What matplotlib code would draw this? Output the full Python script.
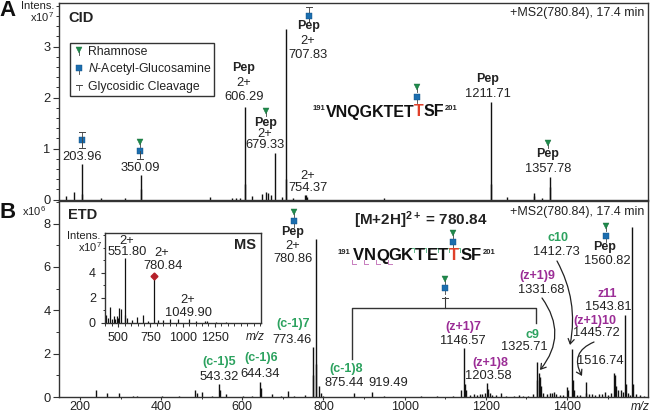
import matplotlib
matplotlib.use('Agg')
import matplotlib.pyplot as plt
from matplotlib.patches import FancyArrowPatch, Rectangle

plt.rcParams['font.family'] = ['Liberation Sans', 'DejaVu Sans']
plt.rcParams['mathtext.fontset'] = 'custom'
plt.rcParams['mathtext.rm'] = 'Liberation Sans'
plt.rcParams['mathtext.it'] = 'Liberation Sans:italic'
plt.rcParams['mathtext.bf'] = 'Liberation Sans:bold'
plt.rcParams['mathtext.default'] = 'regular'

# peaks, intensity in axis units
cid_mz = [165, 185, 203.96, 204.9, 251, 311, 350.09, 351, 520, 575, 585, 595, 606.29, 607.3, 624, 649, 658, 664, 671,
          679.33, 697, 707.83, 708.8, 724, 754.37, 757, 760, 949, 1211.71, 1213, 1252, 1319, 1320, 1338, 1357.78, 1358.8]
cid_int = [0.07, 0.14, 0.7, 0.1, 0.02, 0.02, 0.49, 0.2, 0.05, 0.03, 0.03, 0.03, 1.82, 0.3, 0.07, 0.1, 0.15, 0.12, 0.08,
           0.92, 0.04, 3.35, 0.4, 0.03, 0.09, 0.09, 0.05, 0.02, 1.92, 0.3, 0.04, 0.12, 0.06, 0.02, 0.45, 0.25]

etd_mz = [239, 267, 296, 331, 340, 402, 444, 483, 488, 500, 526, 543.32, 545, 559, 601, 625, 644.34, 646, 673, 695, 713,
          727, 754, 773.46, 775, 780.86, 782, 790, 795, 800, 875.44, 919.49, 950, 1000, 1040, 1080, 1120, 1140, 1146.57,
          1148, 1151, 1160, 1170, 1178, 1185, 1190, 1197, 1203.58, 1206, 1210, 1216, 1225, 1238, 1250, 1270, 1283, 1292,
          1305, 1317, 1325.71, 1327, 1331.68, 1334, 1337, 1342, 1350, 1357, 1362, 1368, 1374, 1382, 1390, 1399, 1402,
          1412.73, 1414, 1418, 1425, 1432, 1445.72, 1447, 1455, 1462, 1470, 1478, 1486, 1494, 1500, 1508, 1516.74, 1519,
          1522, 1527, 1533, 1537, 1543.81, 1545, 1550, 1556, 1560.82, 1562, 1570, 1580, 1590]
etd_int = [0.32, 0.2, 0.2, 0.04, 0.04, 0.05, 0.04, 0.32, 0.2, 0.22, 0.04, 0.58, 0.3, 0.13, 0.05, 0.06, 0.7, 0.4, 0.12,
           0.03, 0.28, 0.06, 0.1, 2.3, 1.0, 7.28, 1.5, 0.5, 0.2, 0.05, 0.2, 0.22, 0.03, 0.02, 0.03, 0.03, 0.04, 0.3, 2.25,
           0.6, 0.3, 0.1, 0.12, 0.08, 0.12, 0.12, 0.2, 0.63, 0.35, 0.2, 0.1, 0.07, 0.2, 0.04, 0.05, 0.1, 0.06,
           0.04, 0.12, 1.6, 0.8, 1.1, 0.9, 0.5, 0.2, 0.12, 0.17, 0.2, 0.22, 0.15, 0.1, 0.08, 0.45, 0.3,
           2.2, 0.8, 0.3, 0.1, 0.07, 0.68, 0.2, 0.12, 0.15, 0.1, 0.14, 0.12, 0.25, 0.1, 0.2, 1.13, 1.0,
           0.5, 0.3, 0.3, 0.25, 3.8, 0.6, 0.2, 0.1, 7.83, 0.6, 0.15, 0.08, 0.05]

ms_mz = [407, 420, 436, 450, 463, 475, 488, 500, 508, 520, 551.8, 555, 565, 605, 648, 695, 733, 780.84, 810, 848, 900,
         967, 1049.9, 1106, 1170, 1190, 1260, 1340]
ms_int = [0.6, 0.35, 1.28, 0.3, 0.5, 0.3, 0.55, 0.4, 1.2, 1.1, 5.17, 0.6, 0.4, 0.25, 0.45, 0.6, 0.15, 3.7, 0.25, 0.2,
          0.3, 0.3, 0.3, 0.15, 0.15, 0.15, 0.05, 0.05]

W, H = 650, 413
GREY = '#222222'
FRAME = '#333333'
GREEN = '#2ca25f'
PURPLE = '#9b2d96'
TRI = '#1f8a4c'
BLUE = '#1c6eaf'


def box(l, t, r, b):
    return [l / W, 1 - b / H, (r - l) / W, (b - t) / H]


fig = plt.figure(figsize=(6.5, 4.13), dpi=100)

axA = fig.add_axes(box(59, 3, 648, 199.5))
axB = fig.add_axes(box(59, 201, 648, 397))
axC = fig.add_axes(box(105, 233, 261, 322.7))

axA.vlines(cid_mz, 0, cid_int, color='#111111', lw=1.0)
axB.vlines(etd_mz, 0, etd_int, color='#111111', lw=1.0)
axC.vlines(ms_mz, 0, ms_int, color='#111111', lw=0.9)
axC.plot([780.84], [3.7], marker='D', ms=3.5, color='#b5202a', ls='none')

axA.set_xlim(148.25, 1599.7)
axA.set_ylim(0, 3.853)
axB.set_xlim(148.25, 1599.7)
axB.set_ylim(0, 9.045)
axC.set_xlim(397, 1608)
axC.set_ylim(0, 7.18)

axA.set_xticks([])
axA.set_yticks([0, 1, 2, 3])
axA.set_yticks([i * 0.2 for i in range(20)], minor=True)
axB.set_xticks(range(200, 1600, 200))
axB.set_xticks(range(200, 1600, 100), minor=True)
axB.set_yticks([0, 2, 4, 6, 8])
axB.set_yticks(range(0, 10), minor=True)
axC.set_xticks([500, 750, 1000, 1250])
axC.set_xticks(range(400, 1601, 50), minor=True)
axC.set_yticks([0, 2, 4])
axC.set_yticks([0, 1, 2, 3, 4, 5, 6, 7], minor=True)

for ax in (axA, axB, axC):
    for s in ax.spines.values():
        s.set_color(FRAME)
        s.set_linewidth(1.0)
    ax.tick_params(which='major', length=4, width=0.8, color=FRAME, labelsize=9.3, labelcolor=GREY, pad=2)
    ax.tick_params(which='minor', length=2.5, width=0.7, color=FRAME)
axB.tick_params(axis='x', which='major', length=2.5, pad=0.5, labelsize=9)
axB.tick_params(axis='x', which='minor', length=1.5)
axC.tick_params(which='major', length=3, labelsize=9, pad=3.5)
axC.tick_params(which='minor', length=1.8)

# overlay in picture coordinates for the annotations
ov = fig.add_axes([0, 0, 1, 1], zorder=10)
ov.set_xlim(0, W)
ov.set_ylim(H, 0)
ov.axis('off')
ov.patch.set_alpha(0)


def num(x, y, s, ha='center', size=9.3):
    ov.text(x, y, s, ha=ha, va='center', fontsize=size, color=GREY)


def bold(x, y, s, color=GREY, size=9, ha='center'):
    ov.text(x, y, s, ha=ha, va='center', fontsize=size, color=color, fontweight='bold')


def tri(x, y):
    ov.plot([x, x], [y, y + 5], color='#444444', lw=0.6)
    ov.plot([x], [y], marker='v', ms=5, color=TRI, mec='#156b38', mew=0.3, ls='none')


def sq(x, y):
    ov.plot([x, x], [y, y + 6], color='#444444', lw=0.6)
    ov.plot([x], [y], marker='s', ms=4.6, color=BLUE, mec='#124e80', mew=0.3, ls='none')


def cut(x, y, half=3):
    ov.plot([x - half, x + half], [y, y], color='#444444', lw=0.7)


def arrow(a, b, rad):
    ov.add_patch(FancyArrowPatch(a, b, connectionstyle='arc3,rad=%s' % rad, arrowstyle='->,head_width=2.2,head_length=3.5',
                                 color='#222222', lw=0.9, shrinkA=0, shrinkB=0))


# panel letters and y labels
bold(8, 10, 'A', color='#111111', size=16)
bold(8, 212, 'B', color='#111111', size=16)
num(54, 6, 'Intens.', ha='right', size=8)
num(54, 17, 'x10$^{7}$', ha='right', size=8)
num(46, 211, 'x10$^{6}$', ha='right', size=8)
bold(68, 17.5, 'CID', size=10.5, ha='left')
bold(68, 215, 'ETD', size=10.5, ha='left')
num(644, 13, '+MS2(780.84), 17.4 min', ha='right', size=9)
num(644, 212, '+MS2(780.84), 17.4 min', ha='right', size=9)

# legend box
ov.add_patch(Rectangle((70, 43), 144, 53, fill=False, ec=FRAME, lw=1.0))
tri(78.7, 50)
sq(78.7, 67.5)
ov.plot([78.7, 78.7], [85, 90], color='#444444', lw=0.6)
cut(78.7, 85)
num(88, 52, 'Rhamnose', ha='left', size=8.8)
num(88, 69, r'$\mathit{N}$-Acetyl-Glucosamine', ha='left', size=8.8)
num(88, 87, 'Glycosidic Cleavage', ha='left', size=8.8)

# panel A labels
sq(82, 140)
ov.plot([82, 82], [132, 148], color='#444444', lw=0.6)
cut(82, 132)
cut(82, 148)
num(82, 157, '203.96')
tri(139.5, 142)
sq(139.5, 151)
ov.plot([139.5, 139.5], [151, 159], color='#444444', lw=0.6)
cut(139.5, 159)
num(140, 168, '350.09')
bold(244, 68, 'Pep')
num(244, 83, '2+')
num(244, 97, '606.29')
tri(266, 111)
bold(266, 123, 'Pep')
num(265, 134, '2+')
num(265, 145, '679.33')
ov.plot([309, 309], [7, 22], color='#444444', lw=0.6)
cut(309, 7)
sq(309, 16)
bold(309, 26, 'Pep')
num(308, 41, '2+')
num(308, 55, '707.83')
num(308, 176, '2+')
num(308, 188, '754.37')
bold(488, 79, 'Pep')
num(488, 94, '1211.71')
tri(548, 143)
bold(548, 154, 'Pep')
num(548, 169, '1357.78')

# peptide in panel A, piece by piece
fig.canvas.draw()
rend = fig.canvas.get_renderer()
x = 313
inv = ov.transData.inverted()
pieces = [('191', 5.5, 108.5, GREY), ('VNQGKTET', 11.5, 112, '#111111'), ('T', 11.5, 112, '#e0402a'),
          ('SF', 11.5, 112, '#111111'), ('201', 5.5, 108.5, GREY)]
for s, size, y, c in pieces:
    t = ov.text(x, y, s, ha='left', va='center', fontsize=size, color=c, fontweight='bold')
    x = inv.transform((t.get_window_extent(rend).x1, 0))[0]
tri(417, 87)
sq(417, 97)

# panel B labels
tri(294, 212)
sq(294, 221)
bold(293, 232, 'Pep')
num(293, 246, '2+')
num(293, 259, '780.86')
bold(293, 324, '(c-1)7', color=GREEN)
num(292, 340, '773.46')
bold(219, 362, '(c-1)5', color=GREEN)
num(219, 377, '543.32')
bold(261, 358, '(c-1)6', color=GREEN)
num(260, 374, '644.34')
bold(346, 369, '(c-1)8', color=GREEN)
num(344, 383, '875.44')
num(388, 383, '919.49')
bold(463, 327, '(z+1)7', color=PURPLE)
num(463, 341, '1146.57')
bold(490, 363, '(z+1)8', color=PURPLE)
num(488, 376, '1203.58')
bold(532, 335, 'c9', color=GREEN)
num(524, 347, '1325.71')
bold(537, 276, '(z+1)9', color=PURPLE)
num(541, 290, '1331.68')
bold(558, 238, 'c10', color=GREEN)
num(556, 252, '1412.73')
tri(606, 226)
sq(606, 236)
bold(605, 247, 'Pep')
num(607, 261, '1560.82')
bold(607, 294, 'z11', color=PURPLE)
num(608, 307, '1543.81')
bold(595, 321, '(z+1)10', color=PURPLE)
num(596, 333, '1445.72')
num(600, 361, '1516.74')

arrow((542, 298), (540, 370), -0.38)
arrow((557, 261), (570, 345), -0.18)
arrow((594, 342), (582, 376), 0.55)

# linked fragment bracket
ov.plot([352, 352, 536, 536], [359, 308, 308, 323], color='#333333', lw=1.0)
ov.plot([445, 445], [297, 308], color='#333333', lw=0.8)
tri(445, 279)
sq(445, 288)
cut(445, 298)

# peptide in panel B, spaced letters
bold(354, 220, r'[M+2H]$^{\mathbf{2+}}$ = 780.84', size=11, ha='left')

letters = list('VNQGKTETTSF')
letter_x = [358, 370, 383, 395, 407, 420, 432, 443, 454, 466, 476]
for s, lx in zip(letters, letter_x):
    bold(lx, 256, s, color='#e0402a' if lx == 454 else '#111111', size=12)
bold(344, 253, '191', size=5.5)
bold(489, 253, '201', size=5.5)
tri(453, 233)
sq(453, 242)
for bx in [352, 364, 376, 388]:
    ov.plot([bx, bx, bx + 4], [260, 264, 264], color='#c77bbd', lw=0.7)
for bx in [413.5, 425.5, 437.5, 448.5, 460]:
    ov.plot([bx - 4, bx, bx], [248, 248, 252], color='#5fb98a', lw=0.7)

# inset labels
num(100, 236, 'Intens.', ha='right', size=8)
num(102, 247, 'x10$^{7}$', ha='right', size=8)
bold(245, 245, 'MS', size=10.5)
num(127, 241, '2+')
num(127, 252, '551.80')
num(162, 253, '2+')
num(163, 266, '780.84')
num(188, 300, '2+')
num(189, 313, '1049.90')
ov.text(255, 337, 'm/z', ha='center', va='center', fontsize=8.5, style='italic', color=GREY)
ov.text(640, 407, 'm/z', ha='center', va='center', fontsize=8.5, style='italic', color=GREY)

fig.savefig('out.png', dpi=100)
